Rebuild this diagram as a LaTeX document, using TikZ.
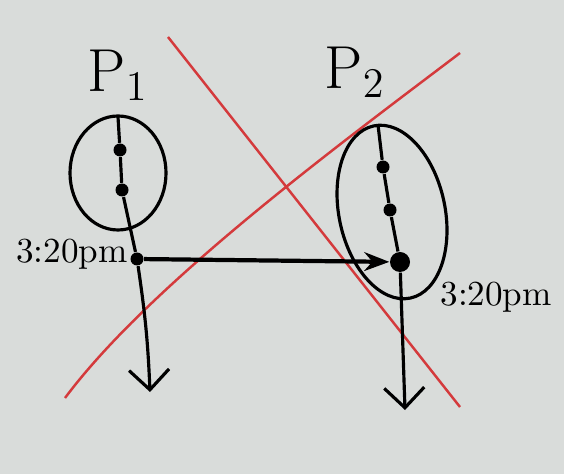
\documentclass[tikz,border=0pt]{standalone}
\usetikzlibrary{arrows.meta}

\definecolor{Paper}{HTML}{D9DCDA}
\definecolor{Marker}{HTML}{D43A3C}

\tikzset{
    event/.style={circle, fill=black, inner sep=0pt, minimum size=1.3mm},
    bigevent/.style={circle, fill=black, inner sep=0pt, minimum size=2mm},
    ink/.style={line width=0.9pt},
}

\begin{document}
\begin{tikzpicture}
        \fill[Paper] (0,0) rectangle (5.64,4.74);
        \useasboundingbox (0,0) rectangle (5.64,4.74);

        % light cone
        \draw[Marker, line width=0.7pt] (1.68,4.37) -- (4.60,0.67);
        \draw[Marker, line width=0.7pt] (0.65,0.76) .. controls (1.50,1.90) and (3.40,3.30) .. (4.60,4.21);

        \node[font=\LARGE] (p1) at (1.18,3.99) {P$_1$};
        \node[font=\LARGE] (p2) at (3.55,4.02) {P$_2$};

        % process 1
        \coordinate (t1) at (1.18,3.57);
        \coordinate (e1) at (1.50,0.82);
        \node[event] (a1) at (1.20,3.24) {};
        \node[event] (a2) at (1.22,2.84) {};
        \node[event] (a3) at (1.37,2.15) {};
        \draw[ink] (1.18,3.01) ellipse (0.48 and 0.57);
        \draw[ink] (t1) -- (a1) -- (a2) -- (a3);
        \draw[ink, -{Straight Barb[length=2mm, width=4mm]}] (a3) to[bend left=3] (e1);
        \node[left, inner sep=1pt] (l1) at (a3.north west) {3:20pm};

        % process 2
        \coordinate (t2) at (3.78,3.49);
        \coordinate (e2) at (4.05,0.64);
        \node[event] (b1) at (3.83,3.07) {};
        \node[event] (b2) at (3.90,2.64) {};
        \node[bigevent] (b3) at (4.00,2.12) {};
        \draw[ink, rotate around={12:(3.92,2.62)}] (3.92,2.62) ellipse (0.53 and 0.88);
        \draw[ink] (t2) -- (b1) -- (b2) -- (b3);
        \draw[ink, -{Straight Barb[length=2mm, width=4mm]}] (b3) -- (e2);
        \node[right] (l2) at (4.28,1.77) {3:20pm};

        % message
        \draw[line width=1.2pt, -{Stealth[length=2.5mm]}] (a3) -- (b3);
    \end{tikzpicture}
\end{document}
